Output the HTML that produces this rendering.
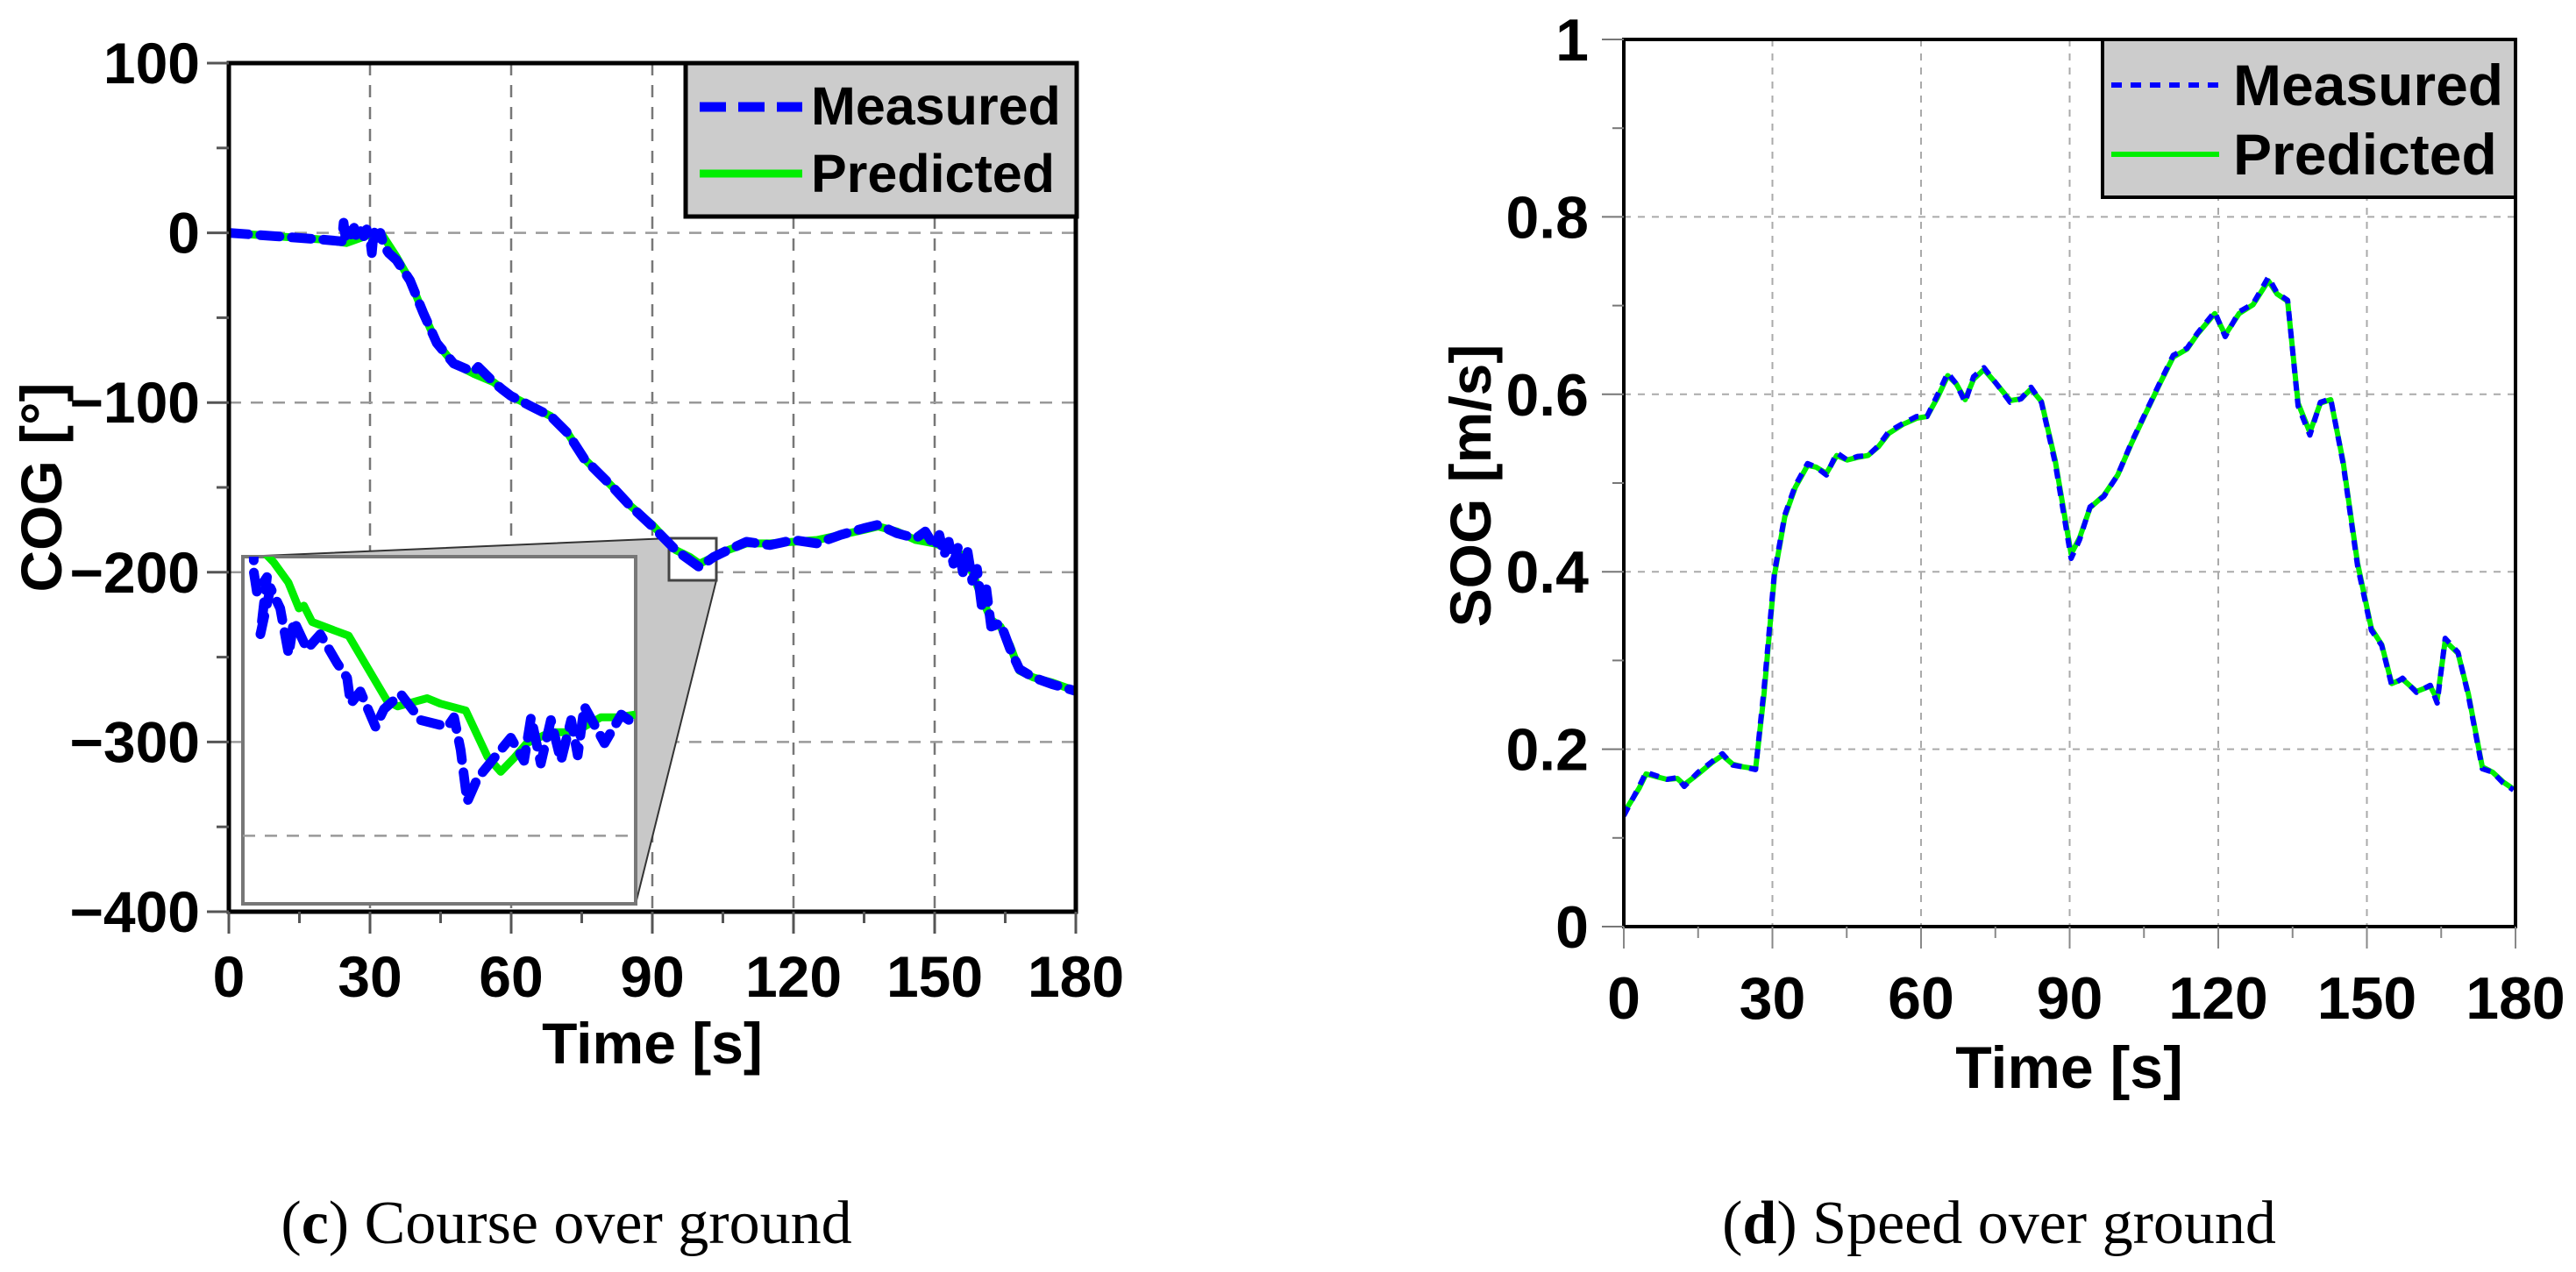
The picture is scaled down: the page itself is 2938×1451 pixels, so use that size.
<!DOCTYPE html>
<html><head><meta charset="utf-8"><style>
html,body{margin:0;padding:0;background:#fff;}
svg{display:block;}
text{font-family:"Liberation Sans",Arial,sans-serif;font-weight:bold;fill:#000;}
.cap{font-family:"Liberation Serif",serif;font-weight:normal;}
</style></head><body>
<svg id="fig" width="2938" height="1451" viewBox="0 0 2938 1451" xmlns="http://www.w3.org/2000/svg">
<defs>
<clipPath id="clipL"><rect x="261" y="72" width="966" height="968"/></clipPath>
<clipPath id="clipR"><rect x="1852" y="45" width="1017" height="1012"/></clipPath>
<clipPath id="clipI"><rect x="277" y="635" width="448" height="396"/></clipPath>
</defs>
<g id="left"></g>
<g id="right"></g>
<text class="cap" x="646" y="1418" font-size="70" text-anchor="middle">(<tspan font-weight="bold">c</tspan>) Course over ground</text>
<text class="cap" x="2280" y="1418" font-size="70" text-anchor="middle">(<tspan font-weight="bold">d</tspan>) Speed over ground</text>
</svg>
<script>
// ---- COG data ----
const cogPredT = [0,10,20,25,28,30,32.8,35.6,38.5,41.3,44.2,47.8,52,56.3,59.9,64.1,68.4,72,75.5,78.4,81.3,85,90,95,98,100,103,106,110,115,120,125,130,135,138,142,146,150,153,156,158,160,162,164,166,168,171,175,180];
const cogPredV = [0,-2,-4,-6,-3,-1,-2,-14,-28,-47,-65,-77,-83,-88,-96,-102,-108,-118,-133,-141,-149,-160,-172,-187,-191,-195,-191,-187,-183,-183,-182,-181,-178,-175,-173,-176,-181,-183,-186,-190,-200,-215,-228,-232,-243,-258,-262,-265,-270];
const cogMeasT = [0,10,20,24,24.4,24.8,25.3,26,26.6,27.3,28,28.7,29.3,30,30.4,30.8,31.5,32.2,33,34,35.6,38.5,41.3,44.2,47.8,52,53,56.3,58,59.9,64.1,68.4,72,75.5,78.4,81.3,85,90,95,98,100,103,106,110,115,120,125,130,135,138,142,146,148,150,151,152,153,154,155,156,157,158,159,160,161,162,164,166,168,171,175,180];
const cogMeasV = [0,-2,-4,-5,6,-3,2,-1,3,-4,1,-2,2,-3,-12,1,-3,0,-8,-12,-16,-28,-47,-65,-77,-82,-79,-88,-92,-96,-102,-108,-118,-133,-141,-149,-160,-173,-187,-193,-197,-191,-187,-182,-184,-181,-183,-178,-174,-172,-177,-180,-176,-185,-178,-190,-182,-195,-185,-200,-188,-205,-198,-220,-210,-232,-230,-245,-257,-262,-266,-270];
const cogYTicks = [100,0,-100,-200,-300,-400];
const xTicks = [0,30,60,90,120,150,180];
// inset data
const insPredT = [93.95,94.29,94.67,94.94,95.07,95.28,95.84,96.22,97.21,97.48,98.24,98.58,99.23,99.79,100.13,100.47,100.8,101.41,102.02,102.71,103.14,103.6];
const insPredV = [-178.9,-179.9,-181.4,-183.3,-183.1,-184.3,-184.9,-185.3,-190.1,-190.5,-189.9,-190.3,-190.8,-194.2,-195.3,-194.3,-193.2,-192.4,-192.4,-191.3,-191.3,-191.1];
const insMeasT = [93.52,93.78,93.78,93.86,94.12,93.95,94.21,94.46,94.68,94.81,95.15,95.49,95.92,96.18,96.27,96.52,96.91,97.13,97.56,98.07,98.76,98.93,99.1,99.27,99.53,99.96,100.39,100.73,100.91,101.16,101.42,101.68,101.94,102.11,102.28,102.8,103.23,103.57];
const insMeasV = [-179,-179.1,-180.6,-182.1,-181,-185.2,-181.8,-183.3,-186.7,-184.2,-186.3,-185.2,-187.3,-188.4,-190.3,-189.4,-192,-190.7,-189.6,-191.5,-192,-191.3,-193.7,-197.5,-195.8,-194.3,-192.8,-194.5,-191.3,-194.7,-191.5,-194.5,-191.5,-194.1,-190.5,-193.2,-191.1,-191.8];
// ---- SOG data ----
const sogT = [0,3.1,4.5,6.6,8.7,10.8,12.2,15,17.8,19.9,22,24.1,26.6,28.3,30.4,32.5,34.6,37.1,38.8,40.9,43,45.1,47.2,49.3,51.4,53.5,56.3,59.1,61.2,63.3,65.4,67.1,68.9,70.6,72.7,75.2,78,80.2,82.2,84.3,87.1,90.3,92,94.1,96.9,99.7,102.5,105.3,108.1,110.9,113.7,115.8,119.3,121.4,124.2,127,130.1,131.9,134,136.1,138.5,140.6,142.7,145.2,148.1,150.9,153,155,157.2,160,162.8,164.2,165.8,168.4,170.5,173.3,175.4,177.5,179.6];
const sogMeas = [.125,.158,.174,.170,.166,.168,.158,.174,.186,.195,.182,.180,.177,.268,.399,.464,.497,.522,.518,.509,.534,.526,.530,.531,.542,.558,.567,.575,.575,.599,.624,.612,.591,.620,.630,.612,.591,.595,.608,.591,.522,.415,.436,.473,.485,.509,.546,.579,.612,.644,.652,.669,.693,.665,.693,.702,.732,.714,.706,.587,.554,.591,.595,.522,.407,.334,.317,.272,.280,.264,.272,.252,.325,.309,.260,.178,.174,.162,.154];
const sogPred = [.128,.156,.172,.169,.166,.167,.160,.172,.185,.193,.183,.180,.178,.262,.396,.462,.495,.520,.518,.511,.531,.526,.529,.531,.541,.556,.566,.573,.575,.596,.621,.612,.594,.617,.628,.612,.593,.595,.606,.592,.525,.420,.438,.472,.486,.509,.545,.578,.611,.642,.651,.668,.691,.667,.691,.701,.728,.713,.705,.590,.557,.590,.594,.524,.410,.336,.318,.274,.279,.265,.271,.256,.322,.308,.262,.180,.174,.163,.155];
const sogYTicks = [0,0.2,0.4,0.6,0.8,1];
const sogYLabels = ["0","0.2","0.4","0.6","0.8","1"];

const NS="http://www.w3.org/2000/svg";
function mk(parent,tag,attrs){const e=document.createElementNS(NS,tag);for(const k in attrs)e.setAttribute(k,attrs[k]);parent.appendChild(e);return e;}
function pathD(ts,vs,fx,fy){return ts.map((t,i)=>(i?'L':'M')+fx(t).toFixed(1)+' '+fy(vs[i]).toFixed(1)).join(' ');}

// ===== LEFT CHART =====
(function(){
const g=document.getElementById('left');
const X0=261,X1=1227,Y0=72,Y1=1040;
const fx=t=>X0+(t-0)/180*(X1-X0);
const fy=v=>Y0+(100-v)/500*(Y1-Y0);
xTicks.slice(1,-1).forEach(t=>{const l=mk(g,'line',{x1:fx(t),x2:fx(t),y1:Y0,y2:Y1,stroke:'#777','stroke-width':2.5,'stroke-dasharray':'14 11'});

});
cogYTicks.slice(1,-1).forEach(v=>{const l=mk(g,'line',{x1:X0,x2:X1,y1:fy(v),y2:fy(v),stroke:'#999','stroke-width':2.5,'stroke-dasharray':'14 11'});

});
const poly=mk(g,'polygon',{points:'277,635 763,614 817,662 725,1031 725,635',fill:'#c8c8c8',stroke:'#333','stroke-width':2});


const sr=mk(g,'rect',{x:763,y:614,width:54,height:48,fill:'#fff',stroke:'#444','stroke-width':3});


const cg=mk(g,'g',{'clip-path':'url(#clipL)'});
const p=mk(cg,'path',{d:pathD(cogPredT,cogPredV,fx,fy),fill:'none',stroke:'#00ee00','stroke-width':9,'stroke-linejoin':'round'});


const m=mk(cg,'path',{d:pathD(cogMeasT,cogMeasV,fx,fy),fill:'none',stroke:'#0000ff','stroke-width':11,'stroke-dasharray':'22 14','stroke-linecap':'round','stroke-linejoin':'round'});


const ib=mk(g,'rect',{x:277,y:635,width:448,height:396,fill:'#fff',stroke:'#777','stroke-width':4});


const ix=t=>277+(t-93.5)/10.1*448;
const iy=v=>635+(-179.5-v)/25.5*396;
const ig=mk(g,'line',{x1:277,x2:725,y1:iy(-200),y2:iy(-200),stroke:'#999','stroke-width':2.5,'stroke-dasharray':'14 11'});


const icg=mk(g,'g',{'clip-path':'url(#clipI)'});
const ip=mk(icg,'path',{d:pathD(insPredT,insPredV,ix,iy),fill:'none',stroke:'#00ee00','stroke-width':9,'stroke-linejoin':'round'});


const im=mk(icg,'path',{d:pathD(insMeasT,insMeasV,ix,iy),fill:'none',stroke:'#0000ff','stroke-width':11,'stroke-dasharray':'22 14','stroke-linecap':'round','stroke-linejoin':'round'});


const fr=mk(g,'rect',{x:X0,y:Y0,width:X1-X0,height:Y1-Y0,fill:'none',stroke:'#000','stroke-width':5});


cogYTicks.forEach(v=>{const l=mk(g,'line',{x1:X0-25,x2:X0,y1:fy(v),y2:fy(v),stroke:'#555','stroke-width':3});


const tx=mk(g,'text',{x:228,y:fy(v)+23,'font-size':66,'text-anchor':'end'});tx.textContent=(v<0?'\u2212':'')+Math.abs(v);

});
[50,-50,-150,-250,-350].forEach(v=>{const l=mk(g,'line',{x1:X0-14,x2:X0,y1:fy(v),y2:fy(v),stroke:'#555','stroke-width':3});

});
xTicks.forEach(t=>{const l=mk(g,'line',{x1:fx(t),x2:fx(t),y1:Y1,y2:Y1+25,stroke:'#555','stroke-width':3});


const tx=mk(g,'text',{x:fx(t),y:1137,'font-size':66,'text-anchor':'middle'});tx.textContent=t;

});
[15,45,75,105,135,165].forEach(t=>{const l=mk(g,'line',{x1:fx(t),x2:fx(t),y1:Y1,y2:Y1+13,stroke:'#555','stroke-width':3});

});
const xt=mk(g,'text',{x:744,y:1213,'font-size':66,'text-anchor':'middle'});xt.textContent='Time [s]';


const yt=mk(g,'text',{x:0,y:0,'font-size':66,'text-anchor':'middle',transform:'translate(70,556) rotate(-90)'});yt.textContent='COG [°]';


const lg=mk(g,'g',{});


mk(lg,'rect',{x:782,y:72,width:446,height:175,fill:'#cccccc',stroke:'#000','stroke-width':5});
const l1=mk(lg,'line',{x1:798,x2:915,y1:122,y2:122,stroke:'#0000ff','stroke-width':11,'stroke-dasharray':'30 14'});


const t1=mk(lg,'text',{x:925,y:142,'font-size':61});t1.textContent='Measured';


const l2=mk(lg,'line',{x1:798,x2:915,y1:198,y2:198,stroke:'#00ee00','stroke-width':9});


const t2=mk(lg,'text',{x:925,y:219,'font-size':61});t2.textContent='Predicted';


})();

// ===== RIGHT CHART =====
(function(){
const g=document.getElementById('right');
const X0=1852,X1=2869,Y0=45,Y1=1057;
const fx=t=>X0+t/180*(X1-X0);
const fy=v=>Y1-v*(Y1-Y0);
xTicks.slice(1,-1).forEach(t=>{const l=mk(g,'line',{x1:fx(t),x2:fx(t),y1:Y0,y2:Y1,stroke:'#aaa','stroke-width':2,'stroke-dasharray':'8 8'});

});
sogYTicks.slice(1,-1).forEach(v=>{const l=mk(g,'line',{x1:X0,x2:X1,y1:fy(v),y2:fy(v),stroke:'#aaa','stroke-width':2,'stroke-dasharray':'8 8'});

});
const cg=mk(g,'g',{'clip-path':'url(#clipR)'});
const p=mk(cg,'path',{d:pathD(sogT,sogPred,fx,fy),fill:'none',stroke:'#00ee00','stroke-width':6,'stroke-linejoin':'round'});


const m=mk(cg,'path',{d:pathD(sogT,sogMeas,fx,fy),fill:'none',stroke:'#0000ff','stroke-width':6,'stroke-dasharray':'11 9','stroke-linejoin':'round'});


const fr=mk(g,'rect',{x:X0,y:Y0,width:X1-X0,height:Y1-Y0,fill:'none',stroke:'#000','stroke-width':4});


sogYTicks.forEach((v,i)=>{const l=mk(g,'line',{x1:X0-25,x2:X0,y1:fy(v),y2:fy(v),stroke:'#777','stroke-width':2});


const tx=mk(g,'text',{x:1812,y:fy(v)+24,'font-size':68,'text-anchor':'end'});tx.textContent=sogYLabels[i];

});
[0.1,0.3,0.5,0.7,0.9].forEach(v=>{const l=mk(g,'line',{x1:X0-13,x2:X0,y1:fy(v),y2:fy(v),stroke:'#777','stroke-width':2});

});
xTicks.forEach(t=>{const l=mk(g,'line',{x1:fx(t),x2:fx(t),y1:Y1,y2:Y1+25,stroke:'#888','stroke-width':2});


const tx=mk(g,'text',{x:fx(t),y:1162,'font-size':68,'text-anchor':'middle'});tx.textContent=t;

});
[15,45,75,105,135,165].forEach(t=>{const l=mk(g,'line',{x1:fx(t),x2:fx(t),y1:Y1,y2:Y1+13,stroke:'#888','stroke-width':2});

});
const xt=mk(g,'text',{x:2360,y:1241,'font-size':68,'text-anchor':'middle'});xt.textContent='Time [s]';


const yt=mk(g,'text',{x:0,y:0,'font-size':66,'text-anchor':'middle',transform:'translate(1700,554) rotate(-90)'});yt.textContent='SOG [m/s]';


const lg=mk(g,'g',{});


mk(lg,'rect',{x:2398,y:45,width:471,height:180,fill:'#cccccc',stroke:'#000','stroke-width':4});
const l1=mk(lg,'line',{x1:2408,x2:2531,y1:97,y2:97,stroke:'#0000ff','stroke-width':6,'stroke-dasharray':'12 10'});


const t1=mk(lg,'text',{x:2547,y:120,'font-size':66});t1.textContent='Measured';


const l2=mk(lg,'line',{x1:2408,x2:2531,y1:176,y2:176,stroke:'#00ee00','stroke-width':6});


const t2=mk(lg,'text',{x:2547,y:199,'font-size':66});t2.textContent='Predicted';


})();
</script>
</body></html>
